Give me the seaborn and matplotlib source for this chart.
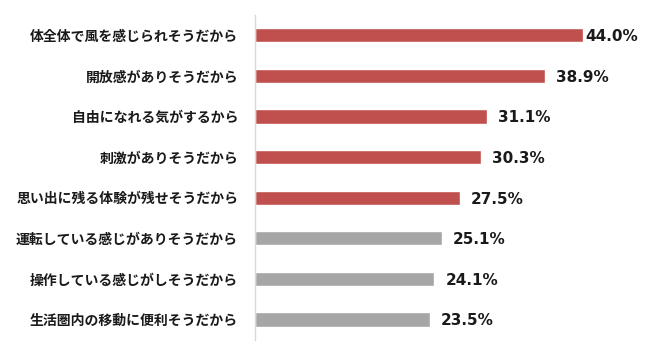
import matplotlib
matplotlib.use("Agg")
import matplotlib.pyplot as plt
import seaborn as sns
import pandas as pd

categories = [
    "体全体で風を感じられそうだから",
    "開放感がありそうだから",
    "自由になれる気がするから",
    "刺激がありそうだから",
    "思い出に残る体験が残せそうだから",
    "運転している感じがありそうだから",
    "操作している感じがしそうだから",
    "生活圏内の移動に便利そうだから",
]
values = [44.0, 38.9, 31.1, 30.3, 27.5, 25.1, 24.1, 23.5]
groups = ["top", "top", "top", "top", "top", "other", "other", "other"]

df = pd.DataFrame({"reason": categories, "pct": values, "group": groups})

sns.set_theme(style="white")
plt.rcParams["font.family"] = ["Noto Sans CJK JP", "DejaVu Sans"]

fig = plt.figure(figsize=(6.45, 3.57), dpi=100)
ax = fig.add_axes([0.395, 0.048, 0.578, 0.910])

sns.barplot(data=df, y="reason", x="pct", hue="group",
            palette={"top": "#C0504D", "other": "#A6A6A6"},
            dodge=False, width=0.35, legend=False, ax=ax, saturation=1)

ax.set_xlim(0, 50)
ax.set_ylim(7.5, -0.5)
ax.set_xlabel("")
ax.set_ylabel("")
ax.set_xticks([])
for s in ["top", "right", "bottom"]:
    ax.spines[s].set_visible(False)
ax.spines["left"].set_color("#D9D9D9")
ax.spines["left"].set_linewidth(1.0)
ax.tick_params(axis="y", length=0, pad=12)
for lab in ax.get_yticklabels():
    lab.set_fontsize(10)
    lab.set_fontweight("bold")
    lab.set_color("#1a1a1a")

vmax = max(values)
for cont in ax.containers:
    for rect, v in zip(cont.patches, cont.datavalues):
        pad = 2 if v == vmax else 8
        ax.annotate(f"{v:.1f}%", xy=(rect.get_x() + rect.get_width(),
                                      rect.get_y() + rect.get_height() / 2),
                    xytext=(pad, -1), textcoords="offset points",
                    ha="left", va="center", fontsize=11, fontweight="bold",
                    color="#1a1a1a", family=["DejaVu Sans"],
                    annotation_clip=False)

fig.savefig("out.png", dpi=100, facecolor="white")
